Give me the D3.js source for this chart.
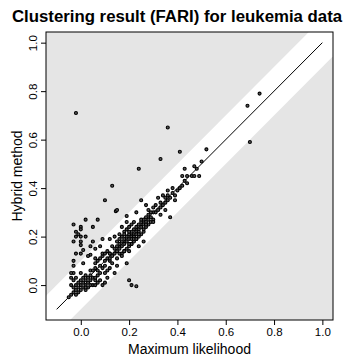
<!DOCTYPE html>
<html>
<head>
<meta charset="utf-8">
<script src="https://cdn.jsdelivr.net/npm/d3@7"></script>
<style>
  body { margin: 0; background: #fff; }
  text { font-family: "Liberation Sans", Arial, sans-serif; fill: #000; }
</style>
</head>
<body>
<div id="chart"></div>
<script>
// FARI values: maximum likelihood (x) vs hybrid method (y)
var maxLik = [
  -0.03,-0.02,-0.01,0.00,0.01,-0.02,0.00,0.01,0.02,0.03,-0.03,-0.01,0.00,0.02,0.04,0.03,0.05,0.02,-0.04,-0.05,
  -0.02,0.01,0.04,0.05,0.06,0.07,0.06,0.08,0.09,0.10,-0.04,-0.03,-0.04,-0.03,0.00,0.02,0.07,0.04,-0.01,0.03,
  0.05,0.06,0.07,0.08,0.09,0.10,0.10,0.11,0.12,0.12,0.13,0.14,0.14,0.15,0.06,0.08,0.09,0.11,0.13,0.10,
  0.12,0.13,0.15,0.11,0.14,0.07,0.09,0.12,
  0.15,0.16,0.16,0.17,0.17,0.18,0.18,0.19,0.19,0.20,0.20,0.21,0.21,0.22,0.22,0.23,0.23,0.24,0.24,0.25,
  0.25,0.26,0.26,0.27,0.28,0.28,0.29,0.30,0.17,0.18,0.19,0.20,0.21,0.22,0.16,0.18,0.19,0.20,0.21,0.22,
  0.23,0.24,0.25,0.26,0.15,0.17,0.20,0.19,0.19,0.23,0.25,0.27,0.145,0.12,0.17,0.14,0.16,0.20,0.21,0.22,
  0.23,0.24,0.25,0.27,0.28,0.29,0.30,0.31,0.32,0.27,0.28,0.29,0.30,0.31,0.33,0.33,0.34,0.35,0.35,0.36,
  0.36,0.37,0.37,0.33,0.38,0.39,0.40,0.41,0.42,0.43,0.44,0.32,0.34,0.36,0.38,0.42,0.43,0.46,0.47,0.48,
  0.49,0.50,0.52,0.41,0.33,0.24,0.13,0.10,0.15,0.36,-0.02,0.69,0.74,0.70,
  -0.03,0.00,0.02,0.07,0.05,-0.02,0.00,-0.02,0.00,-0.03,0.00,0.05,0.00,0.04,0.01,0.06,0.08,-0.02,0.00,0.04,
  0.10,0.12,-0.03,0.01,-0.04,-0.02,-0.03,0.03,0.06,-0.01,0.09,0.02,
  0.19,0.20,0.21,0.23,0.15,0.17,0.26,0.24,
  0.02,0.04,0.06,0.08,0.11,0.16,0.18,0.21,0.22,0.24,0.26,0.18,0.20,0.23,0.27,0.30,0.35,0.39,0.44,0.47
];
var hybrid = [
  -0.03,-0.02,-0.03,-0.02,-0.01,0.00,0.00,0.01,0.00,0.01,-0.01,0.01,0.02,0.02,0.02,-0.01,0.00,-0.02,-0.04,-0.05,
  -0.04,0.03,0.04,0.03,0.02,0.01,0.00,0.02,0.00,0.01,0.00,0.02,0.03,0.05,0.05,0.04,0.04,0.06,-0.01,0.03,
  0.06,0.07,0.06,0.08,0.07,0.10,0.08,0.11,0.10,0.13,0.12,0.13,0.15,0.14,0.09,0.11,0.12,0.14,0.16,0.05,
  0.07,0.09,0.11,0.03,0.05,0.10,0.13,0.11,
  0.16,0.15,0.17,0.16,0.18,0.17,0.19,0.18,0.20,0.19,0.21,0.20,0.22,0.21,0.23,0.22,0.24,0.23,0.25,0.24,
  0.26,0.25,0.27,0.26,0.27,0.29,0.28,0.30,0.20,0.22,0.23,0.24,0.25,0.26,0.21,0.14,0.15,0.16,0.17,0.18,
  0.19,0.20,0.21,0.22,0.18,0.13,0.14,0.26,0.285,0.30,0.35,0.33,0.305,0.19,0.24,0.20,0.19,0.22,0.19,0.20,
  0.21,0.22,0.27,0.28,0.31,0.30,0.32,0.30,0.31,0.24,0.25,0.26,0.27,0.33,0.32,0.34,0.33,0.34,0.36,0.35,
  0.37,0.36,0.28,0.29,0.38,0.37,0.39,0.40,0.41,0.43,0.42,0.36,0.37,0.39,0.40,0.45,0.48,0.45,0.45,0.48,
  0.45,0.51,0.56,0.55,0.52,0.48,0.41,0.35,0.31,0.65,0.71,0.74,0.79,0.59,
  0.25,0.24,0.27,0.27,0.24,0.22,0.23,0.20,0.20,0.18,0.18,0.18,0.165,0.16,0.145,0.15,0.16,0.13,0.13,0.125,
  0.13,0.13,0.10,0.09,0.05,0.03,0.08,0.12,0.11,0.21,0.19,0.20,
  0.09,0.02,0.00,-0.005,0.08,0.12,0.18,0.16,
  -0.01,0.00,0.03,0.05,0.06,0.13,0.14,0.17,0.19,0.21,0.23,0.21,0.17,0.19,0.25,0.26,0.31,0.35,0.45,0.49
];
var xTicks = [0, 0.2, 0.4, 0.6, 0.8, 1.0];
var yTicks = [0, 0.2, 0.4, 0.6, 0.8, 1.0];
var refLine = [-0.1, 1.0];   // y = x from -0.1 to 1
var bandHalf = 0.1;          // white band y = x +/- 0.1

var W = 348, H = 359;
var plot = {left: 46, right: 333, top: 32, bottom: 320};

var svg = d3.select("#chart").append("svg")
  .attr("width", W).attr("height", H);

var x = d3.scaleLinear().domain([-0.144, 1.044]).range([plot.left, plot.right]);
var y = d3.scaleLinear().domain([-0.144, 1.044]).range([plot.bottom, plot.top]);

svg.append("clipPath").attr("id", "clip")
  .append("rect")
  .attr("x", plot.left).attr("y", plot.top)
  .attr("width", plot.right - plot.left).attr("height", plot.bottom - plot.top);

var g = svg.append("g").attr("clip-path", "url(#clip)");

g.append("rect")
  .attr("x", plot.left).attr("y", plot.top)
  .attr("width", plot.right - plot.left).attr("height", plot.bottom - plot.top)
  .attr("fill", "#e5e5e5");

// band around the identity line
var bx = [-0.5, 1.5];
var band = [[bx[0], bx[0] - bandHalf], [bx[1], bx[1] - bandHalf], [bx[1], bx[1] + bandHalf], [bx[0], bx[0] + bandHalf]];
g.append("path")
  .attr("d", d3.line().x(function(d){ return x(d[0]); }).y(function(d){ return y(d[1]); })(band) + "Z")
  .attr("fill", "#fff");

g.append("line")
  .attr("x1", x(refLine[0])).attr("y1", y(refLine[0]))
  .attr("x2", x(refLine[1])).attr("y2", y(refLine[1]))
  .attr("stroke", "#000").attr("stroke-width", 1);

var pts = maxLik.map(function(v, i){ return [v, hybrid[i]]; });
g.selectAll("circle")
  .data(pts)
  .enter().append("circle")
  .attr("cx", function(d){ return x(d[0]); })
  .attr("cy", function(d){ return y(d[1]); })
  .attr("r", 1.5)
  .attr("fill", "#555")
  .attr("stroke", "#000")
  .attr("stroke-width", 1.1);

// box
svg.append("rect")
  .attr("x", plot.left).attr("y", plot.top)
  .attr("width", plot.right - plot.left).attr("height", plot.bottom - plot.top)
  .attr("fill", "none").attr("stroke", "#000").attr("stroke-width", 1);

var fmt = d3.format(".1f");

var xAxis = svg.append("g")
  .attr("transform", "translate(0," + plot.bottom + ")")
  .call(d3.axisBottom(x).tickValues(xTicks).tickFormat(fmt).tickSize(5).tickPadding(3));
xAxis.select(".domain").remove();
xAxis.selectAll("text").style("font-size", "11.5px").style("font-family", "Liberation Sans, Arial, sans-serif");

var yAxis = svg.append("g")
  .attr("transform", "translate(" + plot.left + ",0)")
  .call(d3.axisLeft(y).tickValues(yTicks).tickFormat(fmt).tickSize(5));
yAxis.select(".domain").remove();
yAxis.selectAll("text")
  .attr("x", 0).attr("y", 0).attr("dy", null)
  .attr("text-anchor", "middle")
  .attr("transform", "translate(-9,0) rotate(-90)")
  .style("font-size", "11.5px").style("font-family", "Liberation Sans, Arial, sans-serif");

svg.append("text")
  .attr("x", W / 2 + 3).attr("y", 22)
  .attr("text-anchor", "middle")
  .style("font-size", "16.8px").style("font-weight", "bold")
  .text("Clustering result (FARI) for leukemia data");

svg.append("text")
  .attr("x", (plot.left + plot.right) / 2).attr("y", 354)
  .attr("text-anchor", "middle")
  .style("font-size", "14px")
  .text("Maximum likelihood");

svg.append("text")
  .attr("transform", "translate(22," + (plot.top + plot.bottom) / 2 + ") rotate(-90)")
  .attr("text-anchor", "middle")
  .style("font-size", "14px")
  .text("Hybrid method");
</script>
</body>
</html>
